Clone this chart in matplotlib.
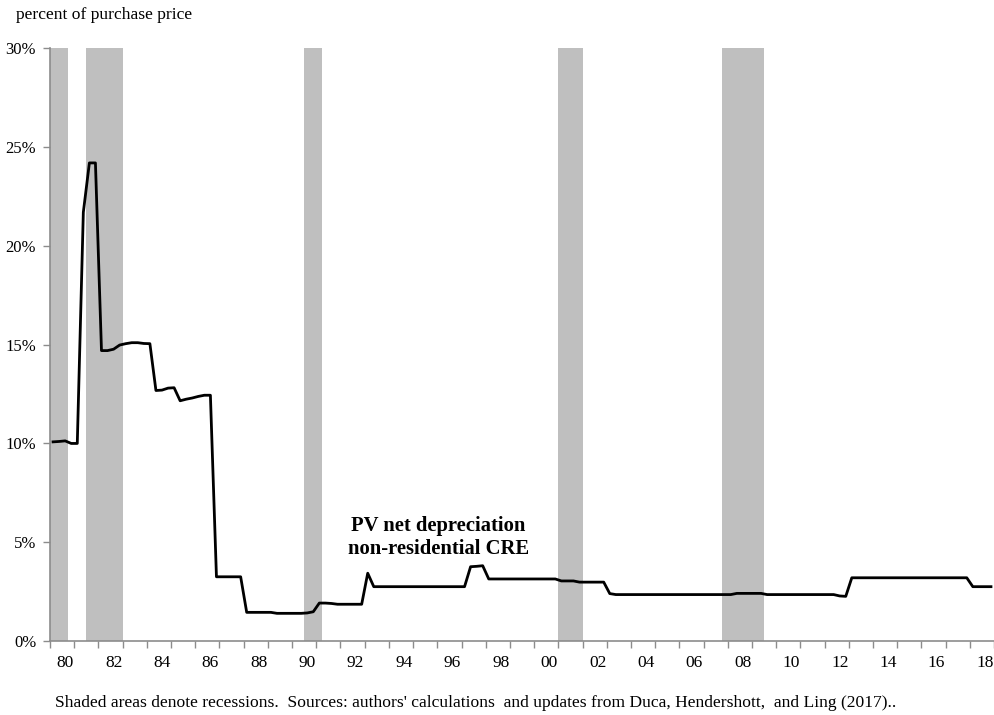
import numpy as np
import matplotlib
matplotlib.use("Agg")
import matplotlib.pyplot as plt

# quarterly values, 1980Q1 .. 2018Q4 (percent of purchase price)
depreciation = (
    [10.08, 10.10, 10.13, 10.0, 10.0, 21.7, 24.2, 24.2]
    + [14.7, 14.7, 14.77, 14.98, 15.05, 15.1, 15.1, 15.06]
    + [15.05, 12.68, 12.7, 12.8, 12.82, 12.16, 12.24, 12.3]
    + [12.38, 12.44, 12.44, 3.25, 3.25, 3.25, 3.25, 3.25]
    + [1.45] * 5 + [1.40] * 5 + [1.42, 1.48]
    + [1.92, 1.92, 1.90, 1.86, 1.86, 1.86, 1.86, 1.86]
    + [3.43] + [2.75] * 16
    + [3.76, 3.78, 3.81] + [3.14] * 12
    + [3.04] * 3 + [2.98] * 5
    + [2.40] + [2.35] * 20
    + [2.41] * 5 + [2.35] * 12 + [2.28, 2.26]
    + [3.2] * 20 + [2.75] * 4
)
start_year = 1980
recessions = [(1980.0, 1980.75), (1981.5, 1983.0), (1990.5, 1991.25), (2001.0, 2002.0), (2007.75, 2009.5)]
y_ticks = [0, 5, 10, 15, 20, 25, 30]
label_years = list(range(1980, 2019, 2))

values = np.array(depreciation)
x = start_year + (np.arange(len(values)) + 0.5) / 4.0

plt.rcParams["font.family"] = ["Liberation Serif", "DejaVu Serif"]
fig = plt.figure(figsize=(9.95, 7.15), dpi=100)
ax = fig.add_axes([0.0503, 0.1035, 0.9487, 0.8289])

for a, b in recessions:
    ax.axvspan(a, b, color="#bfbfbf", lw=0, zorder=0)
ax.plot(x, values, color="black", lw=2.0, zorder=3)

ax.set_xlim(1980, 2019)
ax.set_ylim(0, 30)
ax.set_yticks(y_ticks)
ax.set_yticklabels([f"{v}%" for v in y_ticks])
ax.set_xticks([yr + 0.625 for yr in label_years])
ax.set_xticklabels([f"{yr % 100:02d}" for yr in label_years])
ax.set_xticks(np.arange(1980, 2020), minor=True)
ax.tick_params(axis="x", which="major", length=0, pad=10, labelsize=12.5)
ax.tick_params(axis="x", which="minor", length=5, color="#8c8c8c", width=1)
ax.tick_params(axis="y", length=5, color="#8c8c8c", width=1, pad=5, labelsize=12)

for side in ("top", "right"):
    ax.spines[side].set_visible(False)
for side in ("left", "bottom"):
    ax.spines[side].set_color("#8c8c8c")
    ax.spines[side].set_linewidth(1.2)

ax.text(1996.04, 5.24, "PV net depreciation\nnon-residential CRE", ha="center", va="center",
        fontsize=14.9, fontweight="bold")

fig.text(16 / 995, 1 - 15 / 715, "percent of purchase price", ha="left", va="center", fontsize=12.6)
fig.text(55 / 995, 1 - 703 / 715,
         "Shaded areas denote recessions.  Sources: authors' calculations  and updates from Duca, Hendershott,  and Ling (2017)..",
         ha="left", va="center", fontsize=12.6)

fig.savefig("out.png", dpi=100)
